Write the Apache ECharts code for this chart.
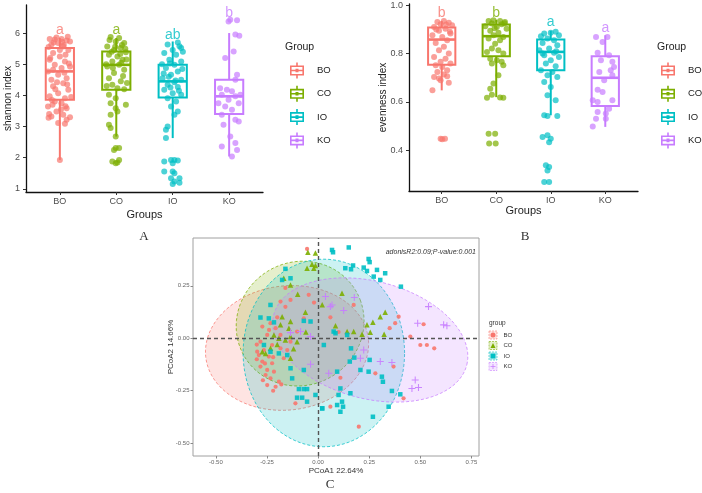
<!DOCTYPE html>
<html>
<head>
<meta charset="utf-8">
<script src="https://cdn.jsdelivr.net/npm/echarts@6.0.0/dist/echarts.min.js"></script>
<style>html,body{margin:0;padding:0;background:#fff}#main{width:702px;height:493px}</style>
</head>
<body>
<div id="main"></div>
<script>
// groups and colours (ggplot defaults)
var groups = ['BO', 'CO', 'IO', 'KO'];
var colors = ['#F8766D', '#7CAE00', '#00BFC4', '#C77CFF'];

// panel A: shannon index  [x, min, Q1, median, Q3, max]
var shannonBox = [
    [1, 1.93, 3.86, 4.77, 5.52, 5.84],
    [2, 2.68, 4.18, 4.98, 5.41, 5.84],
    [3, 2.63, 3.93, 4.45, 4.98, 5.73],
    [4, 2.04, 3.40, 3.97, 4.50, 6.00]
];
var shannonLetters = ['a', 'a', 'ab', 'b'];
var shannonLetterY = [6.1, 6.1, 5.93, 6.64];
// jitter points: [offset from group centre, value]
var shannonBO = [[-0.18,5.81],[-0.09,5.79],[0.03,5.81],[0.12,5.76],[0.18,5.73],[-0.03,5.68],[-0.15,5.63],[0.06,5.57],[0.15,5.46],[-0.12,5.36],[0,5.25],[-0.18,5.14],[0.09,5.09],[-0.09,4.98],[0.18,4.93],[0.03,4.88],[-0.21,4.77],[-0.03,4.66],[0.12,4.55],[-0.15,4.5],[0.06,4.39],[-0.12,4.29],[0.15,4.18],[-0.03,4.07],[-0.18,3.97],[0.09,3.91],[-0.09,3.8],[0.03,3.75],[-0.21,3.64],[0.12,3.59],[-0.06,3.48],[-0.15,3.32],[0.06,3.38],[0.12,3.22],[-0.03,3.11],[0.09,3.09],[0,1.93],[-0.12,4.82],[0,5.46],[-0.06,5.86],[0.1,5.3],[-0.2,5.55],[0.16,5.02],[-0.05,4.42],[0.08,4.73],[-0.14,3.85],[0.18,3.3],[-0.2,3.28],[0.04,5.72],[0.14,5.88],[-0.11,5.7],[0.07,5.62],[-0.17,5.2],[0.13,4.35],[-0.08,4.2],[0.2,3.95],[-0.13,3.7],[0.02,3.55],[-0.19,3.4],[0.1,3.65]];
var shannonCO = [[-0.1,5.87],[0.05,5.84],[-0.01,5.73],[0.14,5.68],[-0.16,5.57],[0.08,5.52],[-0.04,5.46],[0.17,5.38],[-0.13,5.3],[0.02,5.25],[0.11,5.14],[-0.07,5.09],[0.05,4.98],[-0.16,4.93],[0.14,4.82],[-0.04,4.72],[-0.13,4.55],[0.08,4.45],[-0.07,4.34],[0.02,4.23],[0.14,4.2],[-0.13,4.02],[-0.01,3.91],[-0.1,3.75],[0.17,3.7],[-0.01,3.59],[0.02,3.48],[-0.1,3.38],[-0.13,3.06],[-0.1,2.95],[-0.01,2.68],[-0.01,2.31],[0.05,2.31],[-0.04,2.25],[-0.07,1.88],[-0.01,1.82],[0.02,1.85],[0.05,1.93],[0.1,5.62],[-0.08,5.4],[0.18,5.15],[-0.18,5.0],[0.07,5.33],[-0.02,5.56],[0.12,4.62],[-0.12,5.78],[0.16,5.5],[0.09,5.05],[-0.06,4.88],[0.19,4.4],[-0.17,4.3]];
var shannonIO = [[0.09,5.7],[-0.09,5.63],[0.15,5.52],[0,5.46],[-0.15,5.36],[0.06,5.3],[-0.06,5.14],[0.15,5.09],[0.03,4.98],[-0.12,4.88],[0.09,4.77],[-0.03,4.66],[-0.18,4.55],[0.15,4.5],[0.03,4.42],[-0.09,4.34],[0.09,4.27],[-0.15,4.18],[0,4.07],[0.15,4.02],[-0.09,3.91],[0.06,3.8],[-0.03,3.64],[0.09,3.48],[0.03,3.38],[-0.09,3.0],[-0.12,2.9],[-0.12,2.63],[-0.03,1.93],[0.03,1.93],[0.09,1.91],[-0.15,1.88],[0,1.82],[-0.15,1.56],[0,1.56],[0.03,1.5],[0.12,1.34],[-0.03,1.34],[0.03,1.24],[0.12,1.2],[0,1.16],[0.12,5.58],[-0.05,5.02],[0.17,4.85],[-0.16,4.7],[0.05,4.48],[-0.07,4.6],[0.18,5.4],[-0.19,5.0],[0.11,4.15],[-0.04,4.25]];
var shannonKO = [[0.02,6.43],[0.14,6.41],[-0.01,6.37],[0.11,5.95],[0.18,5.91],[-0.07,5.2],[0.08,5.41],[0.14,4.66],[0.11,4.5],[-0.16,4.23],[-0.04,4.18],[0.05,4.13],[-0.13,4.02],[0.11,3.97],[0.2,4.02],[-0.01,3.86],[-0.19,3.75],[0.17,3.75],[-0.07,3.64],[0.05,3.54],[-0.13,3.38],[0.11,3.22],[0.17,3.16],[-0.1,3.06],[0.02,2.68],[0.11,2.47],[0.14,2.25],[0.05,2.04],[-0.13,2.36]];

// panel B: evenness index
var evenBox = [
    [1, 0.648, 0.754, 0.858, 0.908, 0.935],
    [2, 0.620, 0.789, 0.872, 0.920, 0.940],
    [3, 0.545, 0.731, 0.807, 0.858, 0.894],
    [4, 0.497, 0.583, 0.700, 0.789, 0.876]
];
var evenLetters = ['b', 'b', 'a', 'a'];
var evenLetterY = [0.966, 0.966, 0.93, 0.905];
var evenBO = [[-0.08,0.931],[0.04,0.935],[0.13,0.927],[-0.02,0.921],[0.19,0.917],[-0.14,0.91],[0.07,0.903],[-0.05,0.894],[0.16,0.883],[-0.17,0.876],[0.01,0.869],[0.1,0.855],[-0.11,0.844],[0.04,0.828],[-0.05,0.814],[0.13,0.8],[-0.14,0.786],[0.07,0.779],[-0.02,0.766],[0.16,0.759],[-0.11,0.752],[0.01,0.745],[0.1,0.731],[-0.08,0.724],[0.04,0.714],[-0.14,0.703],[-0.05,0.697],[0.1,0.706],[0.13,0.679],[-0.02,0.69],[-0.17,0.648],[-0.02,0.448],[0.06,0.448],[0.01,0.446],[0.08,0.92],[-0.1,0.9],[0.15,0.89]];
var evenCO = [[-0.14,0.935],[-0.05,0.938],[0.07,0.935],[0.16,0.931],[-0.08,0.924],[0.1,0.921],[-0.2,0.913],[0.01,0.91],[0.19,0.903],[-0.11,0.894],[0.04,0.886],[-0.05,0.876],[0.13,0.869],[-0.14,0.862],[0.07,0.855],[-0.02,0.841],[-0.08,0.821],[-0.17,0.807],[0.04,0.814],[0.13,0.8],[-0.11,0.779],[0.01,0.772],[0.1,0.766],[-0.08,0.759],[0.13,0.752],[0.04,0.71],[-0.05,0.676],[-0.11,0.655],[-0.08,0.63],[-0.17,0.617],[0.07,0.618],[0.13,0.617],[-0.14,0.469],[-0.02,0.469],[-0.13,0.428],[-0.01,0.428],[0.15,0.925],[-0.03,0.905]];
var evenIO = [[-0.12,0.883],[0,0.886],[0.09,0.89],[-0.18,0.872],[0.15,0.876],[-0.06,0.862],[0.06,0.855],[-0.15,0.844],[0.12,0.834],[-0.03,0.821],[-0.21,0.814],[0.06,0.803],[-0.12,0.793],[0.15,0.786],[0,0.772],[-0.09,0.759],[0.09,0.748],[-0.18,0.731],[0.03,0.724],[-0.06,0.71],[0.12,0.703],[-0.12,0.683],[0,0.662],[-0.06,0.628],[0.09,0.607],[-0.12,0.545],[-0.06,0.542],[0.12,0.542],[-0.15,0.455],[-0.06,0.462],[0,0.448],[-0.03,0.434],[-0.09,0.338],[-0.03,0.331],[-0.06,0.317],[-0.12,0.269],[-0.03,0.269],[0.1,0.81],[-0.15,0.8]];
var evenKO = [[-0.17,0.869],[0.04,0.869],[-0.05,0.848],[-0.14,0.803],[0.07,0.793],[-0.08,0.772],[0.13,0.766],[0.16,0.745],[0.1,0.731],[-0.11,0.724],[0.13,0.71],[-0.02,0.69],[-0.14,0.651],[-0.05,0.641],[-0.23,0.607],[-0.14,0.6],[0.13,0.607],[0.07,0.572],[-0.14,0.559],[0.01,0.552],[-0.17,0.531],[0.01,0.531],[-0.23,0.499]];

// panel C: PCoA scores [PCoA1, PCoA2]
var pcoaBO = [[-0.054,0.426],[-0.184,0.175],[-0.135,0.183],[-0.046,0.207],[-0.233,0.072],[-0.273,0.056],[-0.249,0.016],[-0.282,-0.016],[-0.225,-0.032],[-0.265,-0.056],[-0.29,-0.08],[-0.241,-0.087],[-0.273,-0.111],[-0.225,-0.119],[-0.282,-0.135],[-0.249,-0.151],[-0.216,-0.159],[-0.257,-0.175],[-0.233,-0.191],[-0.192,-0.207],[-0.249,-0.223],[-0.208,-0.231],[-0.168,-0.095],[-0.184,-0.048],[-0.135,-0.016],[-0.103,0.032],[-0.07,0.095],[-0.184,0.016],[-0.208,0.048],[-0.111,-0.31],[-0.151,-0.056],[-0.298,-0.064],[-0.2,0.1],[-0.16,0.15],[0.174,0.159],[0.35,0.048],[0.394,0.103],[0.377,0.072],[0.451,0.008],[0.5,-0.032],[0.532,-0.032],[0.568,-0.048],[0.516,0.067],[0.28,-0.167],[0.369,-0.135],[0.418,-0.286],[0.199,-0.421],[0.06,-0.326],[0.109,-0.188],[-0.3,-0.1],[-0.26,-0.12],[-0.22,-0.09],[-0.27,-0.2],[-0.22,-0.25],[-0.18,-0.22],[-0.3,-0.03],[-0.24,0.04],[-0.16,0.24],[-0.02,0.17],[0.06,0.1],[0.1,0.03]];
var pcoaCO = [[-0.05,0.41],[-0.013,0.406],[-0.03,0.353],[-0.013,0.347],[-0.021,0.334],[-0.054,0.334],[-0.135,0.254],[-0.168,0.286],[-0.176,0.103],[-0.184,0.064],[-0.143,0.048],[-0.192,0],[-0.16,-0.008],[-0.135,0.008],[-0.103,-0.016],[-0.233,-0.048],[-0.273,-0.064],[-0.257,-0.072],[-0.216,0.016],[-0.135,-0.095],[-0.062,0.124],[-0.135,0.08],[0.117,0.215],[0.328,0.124],[0.304,0.103],[0.268,0.076],[0.239,0.064],[0.215,0.019],[0.255,0.029],[0.323,0.019],[0.142,0.032],[0.174,0.032],[0.085,0.06],[-0.1,0.21],[-0.06,0.03],[-0.12,-0.05],[-0.2,-0.03],[0.02,0.16]];
var pcoaIO = [[0.073,0.41],[-0.16,0.331],[-0.176,0.278],[-0.135,0.286],[-0.233,0.159],[-0.282,0.099],[-0.241,0.095],[-0.216,0.076],[-0.07,0.083],[-0.037,0.08],[0.076,0.032],[0.028,-0.032],[-0.265,-0.032],[-0.233,-0.064],[-0.151,-0.08],[-0.135,-0.143],[-0.127,-0.191],[-0.07,-0.151],[-0.094,-0.242],[-0.07,-0.242],[-0.054,-0.242],[-0.103,-0.283],[-0.078,-0.283],[-0.054,-0.302],[-0.013,-0.27],[0.02,-0.334],[0.093,-0.318],[0.1,-0.27],[-0.192,-0.072],[0.15,0.433],[0.247,0.378],[0.252,0.363],[0.223,0.337],[0.239,0.321],[0.288,0.326],[0.328,0.31],[0.304,0.278],[0.272,0.294],[0.171,0.347],[0.161,0.329],[0.133,0.334],[0.405,0.246],[0.068,0.421],[0.085,0.024],[0.142,0.016],[0.161,-0.048],[0.177,-0.092],[0.252,-0.103],[0.247,-0.159],[0.312,-0.183],[0.317,-0.207],[0.361,-0.251],[0.345,-0.326],[0.402,-0.267],[0.268,-0.374],[0.207,-0.151],[0.155,-0.111],[0.093,-0.159],[0.109,-0.239],[0.117,-0.302],[0.122,-0.326],[0.109,-0.35],[0.02,-0.334],[0.158,-0.262]];
var pcoaKO = [[0.036,0.199],[0.068,0.159],[-0.086,0.032],[-0.037,0.008],[-0.037,-0.124],[0.052,-0.167],[0.06,0.151],[0.125,0.132],[0.177,0.194],[0.54,0.151],[0.487,0.072],[0.614,0.064],[0.63,0.06],[0.223,-0.056],[0.207,-0.095],[0.304,-0.111],[0.361,-0.115],[0.475,-0.199],[0.459,-0.239],[0.491,-0.235],[-0.135,0.027]];
// stat_ellipse: [centre x, centre y, semi-axis a, semi-axis b, angle deg]
var pcoaEllipse = [
    [-0.152, -0.046, 0.400, 0.296, 6],
    [-0.088, 0.070, 0.315, 0.295, 20],
    [0.028, -0.070, 0.395, 0.447, 0],
    [0.255, -0.008, 0.487, 0.280, -14]
];

var sans = 'Liberation Sans';
var boxIcon = 'path://M6.2 0H7.8V3H6.2Z M0 3H14V13H0Z M1.6 4.6V11.4H12.4V4.6Z M1.6 7.2H12.4V8.8H1.6Z M5.5 6.2H8.5V9.8H5.5Z M6.2 13H7.8V16H6.2Z';
var plusIcon = 'path://M4.25 0H5.75V4.25H10V5.75H5.75V10H4.25V5.75H0V4.25H4.25Z';
var pcoaSymbols = ['circle', 'triangle', 'rect', plusIcon];
var pcoaSizes = [4.2, 5.5, 4.5, 7];

function rgba(hex, a) {
    var n = parseInt(hex.slice(1), 16);
    return 'rgba(' + (n >> 16) + ',' + ((n >> 8) & 255) + ',' + (n & 255) + ',' + a + ')';
}

// ggplot style box: no whisker caps
function renderBox(params, api) {
    var x = api.value(0);
    var c = colors[params.dataIndex];
    var lo = api.coord([x, api.value(1)]);
    var q1 = api.coord([x, api.value(2)]);
    var md = api.coord([x, api.value(3)]);
    var q3 = api.coord([x, api.value(4)]);
    var hi = api.coord([x, api.value(5)]);
    var hw = api.size([0.25, 0])[0];
    var ls = { stroke: c, lineWidth: 2 };
    return {
        type: 'group',
        children: [
            { type: 'line', shape: { x1: lo[0], y1: lo[1], x2: q1[0], y2: q1[1] }, style: ls },
            { type: 'line', shape: { x1: q3[0], y1: q3[1], x2: hi[0], y2: hi[1] }, style: ls },
            { type: 'rect', shape: { x: q3[0] - hw, y: q3[1], width: hw * 2, height: q1[1] - q3[1] }, style: { fill: '#fff', stroke: c, lineWidth: 2 } },
            { type: 'line', shape: { x1: md[0] - hw, y1: md[1], x2: md[0] + hw, y2: md[1] }, style: { stroke: c, lineWidth: 2.6 } }
        ]
    };
}

function renderEllipse(params, api) {
    var c = colors[params.dataIndex];
    var cx = api.value(0), cy = api.value(1), a = api.value(2), b = api.value(3);
    var ang = api.value(4) * Math.PI / 180;
    var pts = [];
    for (var k = 0; k < 120; k++) {
        var t = k / 120 * Math.PI * 2;
        var ex = a * Math.cos(t), ey = b * Math.sin(t);
        pts.push(api.coord([cx + ex * Math.cos(ang) - ey * Math.sin(ang), cy + ex * Math.sin(ang) + ey * Math.cos(ang)]));
    }
    return {
        type: 'polygon',
        shape: { points: pts },
        style: { fill: rgba(c, 0.2), stroke: rgba(c, 0.75), lineWidth: 1, lineDash: [3, 2] }
    };
}

function boxPanel(box, pts, letters, letterY, idx) {
    var out = [{
        type: 'custom', xAxisIndex: idx, yAxisIndex: idx, data: box,
        encode: { x: 0, y: [1, 2, 3, 4, 5] }, renderItem: renderBox, silent: true, z: 2
    }];
    pts.forEach(function (p, i) {
        out.push({
            type: 'scatter', name: groups[i], xAxisIndex: idx, yAxisIndex: idx,
            data: p.map(function (d) { return [i + 1 + d[0], d[1]]; }),
            symbolSize: 6, itemStyle: { color: colors[i], opacity: 0.7 }, z: 3, silent: true
        });
    });
    out.push({
        type: 'scatter', xAxisIndex: idx, yAxisIndex: idx, symbolSize: 0, silent: true, z: 4,
        data: letters.map(function (l, i) { return { value: [i + 1, letterY[i]], label: { color: colors[i] } }; }),
        label: {
            show: true, position: 'inside', fontSize: 14, fontFamily: sans,
            formatter: function (p) { return letters[p.dataIndex]; }
        }
    });
    return out;
}

function catAxis(idx, nameGap) {
    return {
        gridIndex: idx, type: 'value', min: 0.4, max: 4.6,
        name: 'Groups', nameLocation: 'middle', nameGap: nameGap,
        nameTextStyle: { fontSize: 11, color: '#222', fontFamily: sans },
        axisLine: { onZero: false, lineStyle: { color: '#111', width: 1.3 } },
        axisTick: { customValues: [1, 2, 3, 4], length: 3, lineStyle: { color: '#333' } },
        axisLabel: {
            customValues: [1, 2, 3, 4], margin: 5, fontSize: 9, color: '#4d4d4d', fontFamily: sans,
            formatter: function (v) { return groups[Math.round(v) - 1]; }
        },
        splitLine: { show: false }
    };
}

function numAxis(idx, min, max, ticks, dec, name, nameGap) {
    return {
        gridIndex: idx, type: 'value', min: min, max: max,
        name: name, nameLocation: 'middle', nameGap: nameGap, nameMoveOverlap: false,
        nameTextStyle: { fontSize: 10, color: '#222', fontFamily: sans },
        axisLine: { onZero: false, lineStyle: { color: '#111', width: 1.3 } },
        axisTick: { customValues: ticks, length: 3, lineStyle: { color: '#333' } },
        axisLabel: {
            customValues: ticks, margin: 6, fontSize: 9, color: '#4d4d4d', fontFamily: sans,
            formatter: function (v) { return dec ? v.toFixed(dec) : String(v); }
        },
        splitLine: { show: false }
    };
}

function pcoaAxis(ticks, name, nameGap) {
    return {
        gridIndex: 2, type: 'value', name: name, nameLocation: 'middle', nameGap: nameGap,
        nameTextStyle: { fontSize: 8, color: '#333', fontFamily: sans },
        axisLine: { show: false, onZero: false },
        axisTick: { customValues: ticks, length: 2.5, lineStyle: { color: '#888' } },
        axisLabel: {
            customValues: ticks, margin: 3.5, fontSize: 6, color: '#666', fontFamily: sans,
            formatter: function (v) { return v.toFixed(2); }
        },
        splitLine: { show: false }
    };
}

function boxLegend(left) {
    return {
        left: left, top: 62.5, padding: 0, orient: 'vertical', selectedMode: false,
        itemWidth: 14, itemHeight: 16, itemGap: 7.3,
        textStyle: { fontSize: 9.5, color: '#222', fontFamily: sans, padding: [0, 0, 0, 8] },
        data: groups.map(function (g, i) {
            return { name: g, icon: boxIcon, itemStyle: { color: colors[i], opacity: 1 } };
        })
    };
}

var series = []
    .concat(boxPanel(shannonBox, [shannonBO, shannonCO, shannonIO, shannonKO], shannonLetters, shannonLetterY, 0))
    .concat(boxPanel(evenBox, [evenBO, evenCO, evenIO, evenKO], evenLetters, evenLetterY, 1));

series.push({
    type: 'custom', xAxisIndex: 2, yAxisIndex: 2, data: pcoaEllipse,
    encode: { x: 0, y: 1 }, renderItem: renderEllipse, silent: true, z: 1
});
[pcoaBO, pcoaCO, pcoaIO, pcoaKO].forEach(function (p, i) {
    var s = {
        type: 'scatter', name: groups[i], xAxisIndex: 2, yAxisIndex: 2, data: p,
        symbol: pcoaSymbols[i], symbolSize: pcoaSizes[i],
        itemStyle: { color: colors[i], opacity: 0.9 }, z: 3, silent: true
    };
    if (i === 0) {
        s.markLine = {
            silent: true, symbol: 'none', label: { show: false },
            lineStyle: { color: '#555', type: [4, 3], width: 1.4 },
            data: [{ xAxis: 0 }, { yAxis: 0 }]
        };
    }
    series.push(s);
});

var pcoaY = pcoaAxis([-0.5, -0.25, 0, 0.25], 'PCoA2 14.66%', 18);
pcoaY.nameMoveOverlap = false;
pcoaY.min = -0.561;
pcoaY.max = 0.478;

var myChart = echarts.init(document.getElementById('main'));
myChart.setOption({
    backgroundColor: '#fff',
    animation: false,
    grid: [
        { left: 26, top: 5, width: 237, height: 187 },
        { left: 409, top: 4, width: 229, height: 187 },
        { left: 193, top: 238, width: 286, height: 218, show: true, borderColor: '#a0a0a0', borderWidth: 1 }
    ],
    xAxis: [
        catAxis(0, 17),
        catAxis(1, 13),
        Object.assign(pcoaAxis([-0.5, -0.25, 0, 0.25, 0.5, 0.75], 'PCoA1 22.64%', 9), { min: -0.612, max: 0.787 })
    ],
    yAxis: [
        numAxis(0, 0.9, 6.9, [1, 2, 3, 4, 5, 6], 0, 'shannon index', 13),
        numAxis(1, 0.232, 1.005, [0.4, 0.6, 0.8, 1.0], 1, 'evenness index', 21),
        pcoaY
    ],
    legend: [
        boxLegend(290),
        boxLegend(661),
        {
            left: 490.5, top: 331, padding: 0, orient: 'vertical', selectedMode: false,
            itemWidth: 5, itemHeight: 5, itemGap: 2.5,
            textStyle: { fontSize: 6, lineHeight: 8, color: '#333', fontFamily: sans, padding: [0, 0, 0, 3] },
            data: groups.map(function (g, i) {
                return { name: g, icon: pcoaSymbols[i], itemStyle: { color: colors[i], opacity: 1 } };
            })
        }
    ],
    graphic: [
        { type: 'text', left: 285, top: 42, style: { text: 'Group', fontSize: 10.5, fill: '#222', fontFamily: sans } },
        { type: 'text', left: 657, top: 42, style: { text: 'Group', fontSize: 10.5, fill: '#222', fontFamily: sans } },
        { type: 'text', left: 489, top: 320, style: { text: 'group', fontSize: 6.5, fill: '#333', fontFamily: sans } },
        { type: 'rect', z: 1, shape: { x: 489, y: 331, width: 8, height: 8 }, style: { fill: rgba(colors[0], 0.2), stroke: rgba(colors[0], 0.7), lineDash: [2, 1], lineWidth: 0.8 } },
        { type: 'rect', z: 1, shape: { x: 489, y: 341.5, width: 8, height: 8 }, style: { fill: rgba(colors[1], 0.2), stroke: rgba(colors[1], 0.7), lineDash: [2, 1], lineWidth: 0.8 } },
        { type: 'rect', z: 1, shape: { x: 489, y: 352, width: 8, height: 8 }, style: { fill: rgba(colors[2], 0.2), stroke: rgba(colors[2], 0.7), lineDash: [2, 1], lineWidth: 0.8 } },
        { type: 'rect', z: 1, shape: { x: 489, y: 362.5, width: 8, height: 8 }, style: { fill: rgba(colors[3], 0.2), stroke: rgba(colors[3], 0.7), lineDash: [2, 1], lineWidth: 0.8 } },
        { type: 'text', x: 476, y: 252, style: { text: 'adonisR2:0.09;P-value:0.001', fontSize: 7, fontStyle: 'italic', fill: '#333', fontFamily: sans, align: 'right', verticalAlign: 'middle' } },
        { type: 'text', x: 144, y: 237, style: { text: 'A', fontSize: 13, fill: '#333', fontFamily: 'Liberation Serif', align: 'center', verticalAlign: 'middle' } },
        { type: 'text', x: 525, y: 237, style: { text: 'B', fontSize: 13, fill: '#333', fontFamily: 'Liberation Serif', align: 'center', verticalAlign: 'middle' } },
        { type: 'text', x: 330, y: 485, style: { text: 'C', fontSize: 13, fill: '#333', fontFamily: 'Liberation Serif', align: 'center', verticalAlign: 'middle' } }
    ],
    series: series
});
</script>
</body>
</html>
